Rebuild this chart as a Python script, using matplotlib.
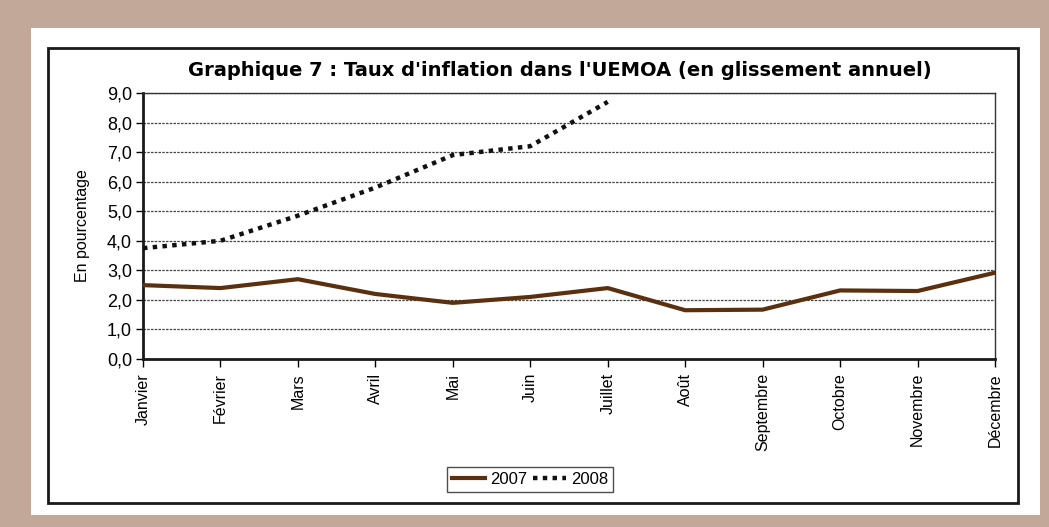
import matplotlib
matplotlib.use('Agg')
import matplotlib.pyplot as plt
from matplotlib.patches import Rectangle
from matplotlib.ticker import FuncFormatter

mois = ['Janvier', 'Février', 'Mars', 'Avril', 'Mai', 'Juin', 'Juillet',
        'Août', 'Septembre', 'Octobre', 'Novembre', 'Décembre']
taux_2007 = [2.5, 2.4, 2.7, 2.2, 1.9, 2.1, 2.4, 1.65, 1.67, 2.32, 2.3, 2.92]
taux_2008 = [3.75, 4.0, 4.85, 5.8, 6.9, 7.2, 8.7]

plt.rcParams['font.family'] = ['Liberation Sans', 'DejaVu Sans']

fig = plt.figure(figsize=(10.49, 5.27), dpi=100)
fig.patch.set_facecolor('#c2a898')

# panneau blanc + cadre noir
fig.patches.append(Rectangle((31/1049, 1-515/527), 1009/1049, 487/527,
                             transform=fig.transFigure, facecolor='white',
                             edgecolor='none', zorder=-2))
fig.patches.append(Rectangle((48/1049, 1-503/527), 970/1049, 455/527,
                             transform=fig.transFigure, facecolor='none',
                             edgecolor='#1a1a1a', lw=2, zorder=-1))

ax = fig.add_axes([143/1049, 1-359/527, 852/1049, 266/527])
ax.set_zorder(2)
ax.set_facecolor('white')

x = list(range(len(mois)))
ax.plot(x, taux_2007, color='#5a300e', lw=3, label='2007', zorder=3)
ax.plot(x[:len(taux_2008)], taux_2008, color='#111111', lw=3.2,
        linestyle=(0, (1, 1.2)), label='2008', zorder=3)

ax.set_xlim(0, 11)
ax.set_ylim(0, 9)
ax.set_yticks(range(10))
ax.yaxis.set_major_formatter(FuncFormatter(lambda v, p: f'{v:.1f}'.replace('.', ',')))
ax.set_xticks(x)
ax.set_xticklabels(mois, rotation=90, fontsize=11.5, family=['Liberation Sans Narrow', 'Liberation Sans'])
ax.tick_params(axis='y', labelsize=13, length=5, width=1, direction='out', pad=3)
ax.tick_params(axis='x', length=6, width=1, direction='out', pad=4)

ax.grid(axis='y', color='#444444', lw=0.9, linestyle=(0, (2, 1)))
ax.set_axisbelow(True)
for s in ['left', 'bottom']:
    ax.spines[s].set_linewidth(2)
    ax.spines[s].set_color('#1a1a1a')
for s in ['top', 'right']:
    ax.spines[s].set_linewidth(1)
    ax.spines[s].set_color('#333333')

ax.set_ylabel('En pourcentage', fontsize=11.5, family=['Liberation Sans Narrow', 'Liberation Sans'], labelpad=12)

fig.text(560/1049, 1-70/527,
         "Graphique 7 : Taux d'inflation dans l'UEMOA (en glissement annuel)",
         ha='center', va='center', fontsize=14, fontweight='bold',
         family='DejaVu Sans')

leg = fig.legend(loc='center', bbox_to_anchor=(530/1049, 1-479/527), ncol=2,
                 frameon=True, fancybox=False, fontsize=12, handlelength=2.0,
                 handletextpad=0.3, columnspacing=0.3, borderpad=0.3)
leg.get_frame().set_edgecolor('#222222')
leg.get_frame().set_linewidth(1)

fig.savefig('out.png', dpi=100, facecolor=fig.get_facecolor())
